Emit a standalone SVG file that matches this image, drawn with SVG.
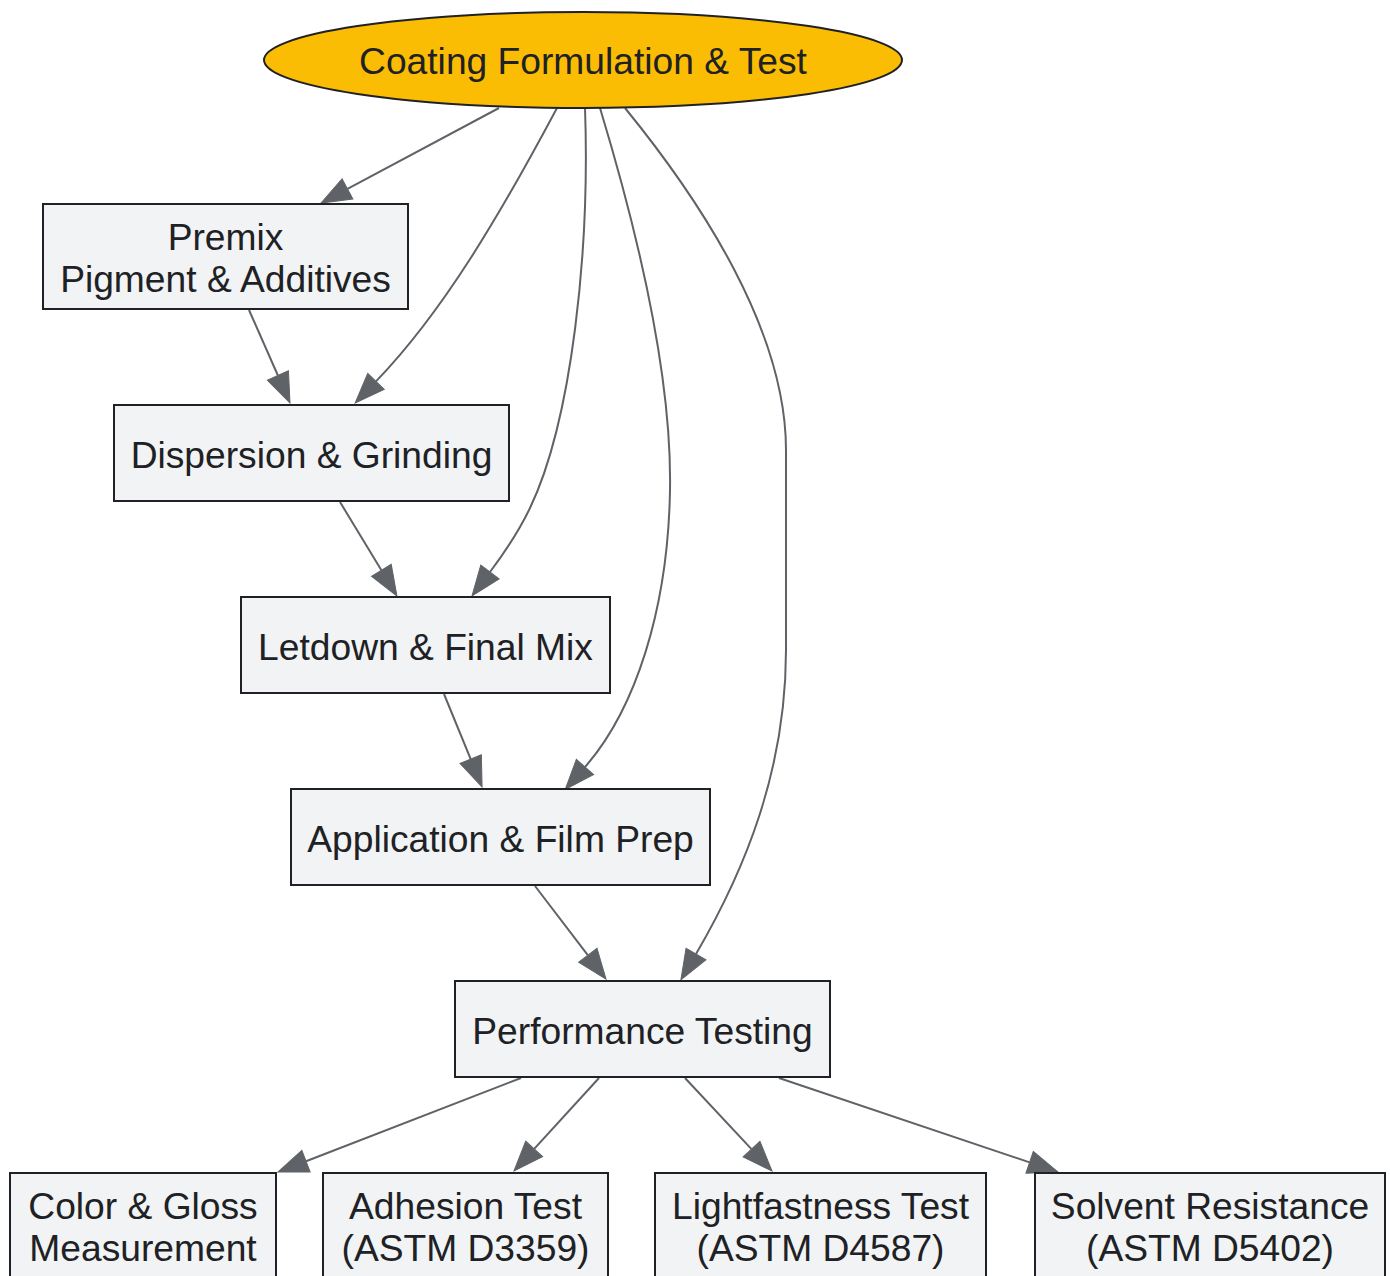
<svg xmlns="http://www.w3.org/2000/svg" width="1390" height="1276" viewBox="0 0 1390 1276">
<style>
.node rect{fill:#f1f3f4;stroke:#202124;stroke-width:2}
.title ellipse{fill:#fbbc04;stroke:#202124;stroke-width:2}
text{font-family:"Liberation Sans",Arial,sans-serif;font-size:37.2px;fill:#202124;text-anchor:middle}
.edges path{fill:none;stroke:#5f6368;stroke-width:2;marker-end:url(#arr)}
</style>
<defs>
<marker id="arr" markerUnits="userSpaceOnUse" markerWidth="32" markerHeight="26" refX="0" refY="12" orient="auto" viewBox="0 0 32 24" overflow="visible">
<path d="M0,0.5 L30,12 L0,23.5 Z" fill="#5f6368" stroke="#5f6368" stroke-width="1"/>
</marker>
</defs>
<rect width="1390" height="1276" fill="#ffffff"/>
<g class="edges">
<path d="M499,108 L347.5,188.9"/>
<path d="M557,108 C500,215 443,312 376,381.4"/>
<path d="M585,108 C590,250 572,420 530,508 C518,533 505,552 490,572"/>
<path d="M600,108 C640,240 672,380 670,490 C668,610 635,710 585,767"/>
<path d="M625,108 C700,200 786,330 786,450 L786,650 C786,770 745,870 696,954"/>
<path d="M249,310 L277.9,375.5"/>
<path d="M340,502 L381.4,570.3"/>
<path d="M444,694 L470.7,759.2"/>
<path d="M535,886 L587.8,955.2"/>
<path d="M521,1078 L306,1161.2"/>
<path d="M599,1078 L534.2,1148.9"/>
<path d="M685,1078 L751.5,1149.1"/>
<path d="M779,1078 L1029.6,1162.4"/>
</g>
<g id="coating" class="title">
<ellipse cx="583" cy="60" rx="319" ry="48"/>
<text x="583" y="74">Coating Formulation &amp; Test</text>
</g>
<g id="premix" class="node">
<rect x="43" y="204" width="365" height="105"/>
<text x="225.5" y="249.5">Premix</text>
<text x="225.5" y="291.5">Pigment &amp; Additives</text>
</g>
<g id="dispersion" class="node">
<rect x="114" y="405" width="395" height="96"/>
<text x="311.5" y="468">Dispersion &amp; Grinding</text>
</g>
<g id="letdown" class="node">
<rect x="241" y="597" width="369" height="96"/>
<text x="425.5" y="660">Letdown &amp; Final Mix</text>
</g>
<g id="application" class="node">
<rect x="291" y="789" width="419" height="96"/>
<text x="500.5" y="852">Application &amp; Film Prep</text>
</g>
<g id="performance" class="node">
<rect x="455" y="981" width="375" height="96"/>
<text x="642.5" y="1044">Performance Testing</text>
</g>
<g id="color" class="node">
<rect x="10" y="1173" width="266" height="105"/>
<text x="143" y="1218.5">Color &amp; Gloss</text>
<text x="143" y="1260.5">Measurement</text>
</g>
<g id="adhesion" class="node">
<rect x="323" y="1173" width="285" height="105"/>
<text x="465.5" y="1218.5">Adhesion Test</text>
<text x="465.5" y="1260.5">(ASTM D3359)</text>
</g>
<g id="lightfastness" class="node">
<rect x="655" y="1173" width="331" height="105"/>
<text x="820.5" y="1218.5">Lightfastness Test</text>
<text x="820.5" y="1260.5">(ASTM D4587)</text>
</g>
<g id="solvent" class="node">
<rect x="1035" y="1173" width="350" height="105"/>
<text x="1210" y="1218.5">Solvent Resistance</text>
<text x="1210" y="1260.5">(ASTM D5402)</text>
</g>
</svg>
